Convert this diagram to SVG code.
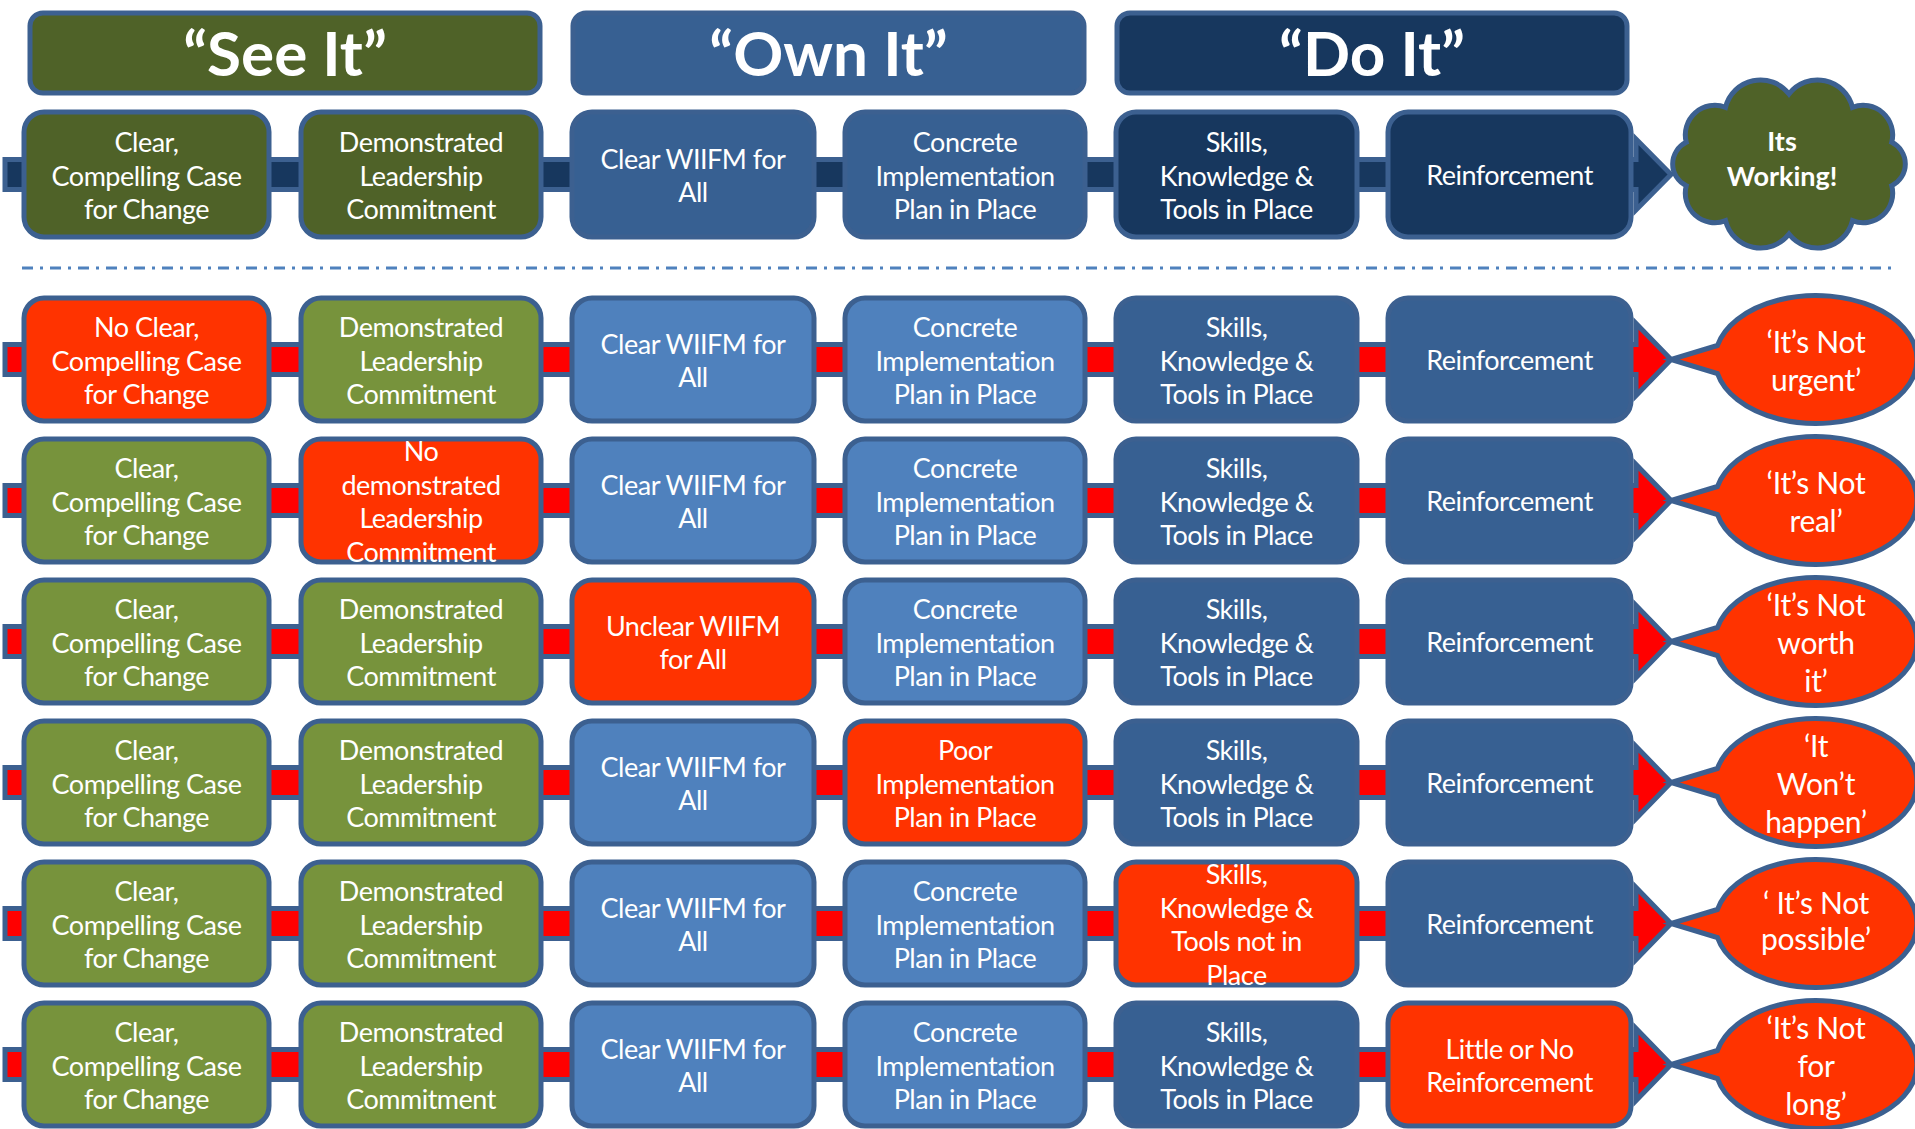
<svg xmlns="http://www.w3.org/2000/svg" width="1915" height="1129" viewBox="0 0 1915 1129">
<style>
.bx{stroke:#3c6090;stroke-width:5}
.hd{stroke:#3c6090;stroke-width:5}
.see{fill:#4f6228}.own{fill:#376092}.do{fill:#17375e}
.g{fill:#77933c}.lb{fill:#4f81bd}.db{fill:#376092}.r{fill:#ff3300}
.t{font-family:Lato,"Liberation Sans",sans-serif;font-size:27px;letter-spacing:-0.5px;fill:#fff;text-anchor:middle;dominant-baseline:central}
.h{font-family:Lato,"Liberation Sans",sans-serif;font-size:62px;font-weight:bold;fill:#fff;text-anchor:middle;dominant-baseline:central}
.bt{font-family:Lato,"Liberation Sans",sans-serif;font-size:30px;letter-spacing:-0.3px;fill:#fff;text-anchor:middle;dominant-baseline:central}
.ct{font-family:Lato,"Liberation Sans",sans-serif;font-size:27px;font-weight:bold;fill:#fff;text-anchor:middle;dominant-baseline:central}
.arr{stroke:#3c6090;stroke-width:5;stroke-linejoin:miter}
.bub{fill:#ff3300;stroke:#3c6090;stroke-width:5}
</style>
<rect width="1915" height="1129" fill="#fff"/>
<g id="connectors">
<path class="arr" fill="#17375e" d="M5 159.5H1636V139L1671 174.5L1636 210V189.5H5Z"/>
<path class="arr" fill="#ff0000" d="M5 344.5H1636V323.5L1671 359.5L1636 395.5V374.5H5Z"/>
<path class="arr" fill="#ff0000" d="M5 485.5H1636V464.5L1671 500.5L1636 536.5V515.5H5Z"/>
<path class="arr" fill="#ff0000" d="M5 626.5H1636V605.5L1671 641.5L1636 677.5V656.5H5Z"/>
<path class="arr" fill="#ff0000" d="M5 767.5H1636V746.5L1671 782.5L1636 818.5V797.5H5Z"/>
<path class="arr" fill="#ff0000" d="M5 908.5H1636V887.5L1671 923.5L1636 959.5V938.5H5Z"/>
<path class="arr" fill="#ff0000" d="M5 1049.5H1636V1028.5L1671 1064.5L1636 1100.5V1079.5H5Z"/>
</g>
<line id="divider" x1="22" y1="268" x2="1895" y2="268" stroke="#4f81bd" stroke-width="3" stroke-dasharray="11 7 3 7"/>
<g id="hdr-see"><rect class="hd see" x="30" y="13" width="510" height="80" rx="13"/><text class="h" x="285" y="52">“See It”</text></g>
<g id="hdr-own"><rect class="hd own" x="573" y="13" width="511" height="80" rx="13"/><text class="h" x="828.5" y="52">“Own It”</text></g>
<g id="hdr-do"><rect class="hd do" x="1117" y="13" width="510" height="80" rx="13"/><text class="h" x="1372" y="52">“Do It”</text></g>

<g id="r0c1"><rect class="bx see" x="24" y="112" width="245" height="125" rx="20"/><text class="t"><tspan x="146.5" y="140.9">Clear,</tspan><tspan x="146.5" y="174.5">Compelling Case</tspan><tspan x="146.5" y="208.1">for Change</tspan></text></g>
<g id="r0c2"><rect class="bx see" x="301" y="112" width="240" height="125" rx="20"/><text class="t"><tspan x="421" y="140.9">Demonstrated</tspan><tspan x="421" y="174.5">Leadership</tspan><tspan x="421" y="208.1">Commitment</tspan></text></g>
<g id="r0c3"><rect class="bx own" x="572" y="112" width="242" height="125" rx="20"/><text class="t"><tspan x="693" y="157.7">Clear WIIFM for</tspan><tspan x="693" y="191.3">All</tspan></text></g>
<g id="r0c4"><rect class="bx own" x="845" y="112" width="240" height="125" rx="20"/><text class="t"><tspan x="965" y="140.9">Concrete</tspan><tspan x="965" y="174.5">Implementation</tspan><tspan x="965" y="208.1">Plan in Place</tspan></text></g>
<g id="r0c5"><rect class="bx do" x="1116" y="112" width="241" height="125" rx="20"/><text class="t"><tspan x="1236.5" y="140.9">Skills,</tspan><tspan x="1236.5" y="174.5">Knowledge &amp;</tspan><tspan x="1236.5" y="208.1">Tools in Place</tspan></text></g>
<g id="r0c6"><rect class="bx do" x="1388" y="112" width="243" height="125" rx="20"/><text class="t" x="1509.5" y="174.5">Reinforcement</text></g>
<g id="working"><path fill="#4f6228" stroke="#3c6090" stroke-width="5" d="M1686.28 142.37A29.5 29.5 0 0 1 1725.52 107.37A36 36 0 0 1 1789 94A36 36 0 0 1 1852.48 107.37A29.5 29.5 0 0 1 1891.72 142.37A24 24 0 0 1 1891.72 185.63A29.5 29.5 0 0 1 1852.48 220.63A36 36 0 0 1 1789 234A36 36 0 0 1 1725.52 220.63A29.5 29.5 0 0 1 1686.28 185.63A24 24 0 0 1 1686.28 142.37Z"/><text class="ct"><tspan x="1782" y="140">Its</tspan><tspan x="1782" y="175">Working!</tspan></text></g>

<!-- Row 1 -->
<g id="r1c1"><rect class="bx r" x="24" y="298" width="245" height="123" rx="20"/><text class="t"><tspan x="146.5" y="325.9">No Clear,</tspan><tspan x="146.5" y="359.5">Compelling Case</tspan><tspan x="146.5" y="393.1">for Change</tspan></text></g>
<g id="r1c2"><rect class="bx g" x="301" y="298" width="240" height="123" rx="20"/><text class="t"><tspan x="421" y="325.9">Demonstrated</tspan><tspan x="421" y="359.5">Leadership</tspan><tspan x="421" y="393.1">Commitment</tspan></text></g>
<g id="r1c3"><rect class="bx lb" x="572" y="298" width="242" height="123" rx="20"/><text class="t"><tspan x="693" y="342.7">Clear WIIFM for</tspan><tspan x="693" y="376.3">All</tspan></text></g>
<g id="r1c4"><rect class="bx lb" x="845" y="298" width="240" height="123" rx="20"/><text class="t"><tspan x="965" y="325.9">Concrete</tspan><tspan x="965" y="359.5">Implementation</tspan><tspan x="965" y="393.1">Plan in Place</tspan></text></g>
<g id="r1c5"><rect class="bx db" x="1116" y="298" width="241" height="123" rx="20"/><text class="t"><tspan x="1236.5" y="325.9">Skills,</tspan><tspan x="1236.5" y="359.5">Knowledge &amp;</tspan><tspan x="1236.5" y="393.1">Tools in Place</tspan></text></g>
<g id="r1c6"><rect class="bx db" x="1388" y="298" width="243" height="123" rx="20"/><text class="t" x="1509.5" y="359.5">Reinforcement</text></g>
<g id="r1out"><path class="bub" d="M1717.45 345.5L1671 359.5L1717.45 373.5A101 64 0 1 0 1717.45 345.5Z"/><text class="bt"><tspan x="1816" y="340.5">‘It’s Not</tspan><tspan x="1816" y="378.5">urgent’</tspan></text></g>

<!-- Row 2 -->
<g id="r2c1"><rect class="bx g" x="24" y="439" width="245" height="123" rx="20"/><text class="t"><tspan x="146.5" y="466.9">Clear,</tspan><tspan x="146.5" y="500.5">Compelling Case</tspan><tspan x="146.5" y="534.1">for Change</tspan></text></g>
<g id="r2c2"><rect class="bx r" x="301" y="439" width="240" height="123" rx="20"/><text class="t"><tspan x="421" y="450.1">No</tspan><tspan x="421" y="483.7">demonstrated</tspan><tspan x="421" y="517.3">Leadership</tspan><tspan x="421" y="550.9">Commitment</tspan></text></g>
<g id="r2c3"><rect class="bx lb" x="572" y="439" width="242" height="123" rx="20"/><text class="t"><tspan x="693" y="483.7">Clear WIIFM for</tspan><tspan x="693" y="517.3">All</tspan></text></g>
<g id="r2c4"><rect class="bx lb" x="845" y="439" width="240" height="123" rx="20"/><text class="t"><tspan x="965" y="466.9">Concrete</tspan><tspan x="965" y="500.5">Implementation</tspan><tspan x="965" y="534.1">Plan in Place</tspan></text></g>
<g id="r2c5"><rect class="bx db" x="1116" y="439" width="241" height="123" rx="20"/><text class="t"><tspan x="1236.5" y="466.9">Skills,</tspan><tspan x="1236.5" y="500.5">Knowledge &amp;</tspan><tspan x="1236.5" y="534.1">Tools in Place</tspan></text></g>
<g id="r2c6"><rect class="bx db" x="1388" y="439" width="243" height="123" rx="20"/><text class="t" x="1509.5" y="500.5">Reinforcement</text></g>
<g id="r2out"><path class="bub" d="M1717.45 486.5L1671 500.5L1717.45 514.5A101 64 0 1 0 1717.45 486.5Z"/><text class="bt"><tspan x="1816" y="481.5">‘It’s Not</tspan><tspan x="1816" y="519.5">real’</tspan></text></g>

<!-- Row 3 -->
<g id="r3c1"><rect class="bx g" x="24" y="580" width="245" height="123" rx="20"/><text class="t"><tspan x="146.5" y="607.9">Clear,</tspan><tspan x="146.5" y="641.5">Compelling Case</tspan><tspan x="146.5" y="675.1">for Change</tspan></text></g>
<g id="r3c2"><rect class="bx g" x="301" y="580" width="240" height="123" rx="20"/><text class="t"><tspan x="421" y="607.9">Demonstrated</tspan><tspan x="421" y="641.5">Leadership</tspan><tspan x="421" y="675.1">Commitment</tspan></text></g>
<g id="r3c3"><rect class="bx r" x="572" y="580" width="242" height="123" rx="20"/><text class="t"><tspan x="693" y="624.7">Unclear WIIFM</tspan><tspan x="693" y="658.3">for All</tspan></text></g>
<g id="r3c4"><rect class="bx lb" x="845" y="580" width="240" height="123" rx="20"/><text class="t"><tspan x="965" y="607.9">Concrete</tspan><tspan x="965" y="641.5">Implementation</tspan><tspan x="965" y="675.1">Plan in Place</tspan></text></g>
<g id="r3c5"><rect class="bx db" x="1116" y="580" width="241" height="123" rx="20"/><text class="t"><tspan x="1236.5" y="607.9">Skills,</tspan><tspan x="1236.5" y="641.5">Knowledge &amp;</tspan><tspan x="1236.5" y="675.1">Tools in Place</tspan></text></g>
<g id="r3c6"><rect class="bx db" x="1388" y="580" width="243" height="123" rx="20"/><text class="t" x="1509.5" y="641.5">Reinforcement</text></g>
<g id="r3out"><path class="bub" d="M1717.45 627.5L1671 641.5L1717.45 655.5A101 64 0 1 0 1717.45 627.5Z"/><text class="bt"><tspan x="1816" y="603.5">‘It’s Not</tspan><tspan x="1816" y="641.5">worth</tspan><tspan x="1816" y="679.5">it’</tspan></text></g>

<!-- Row 4 -->
<g id="r4c1"><rect class="bx g" x="24" y="721" width="245" height="123" rx="20"/><text class="t"><tspan x="146.5" y="748.9">Clear,</tspan><tspan x="146.5" y="782.5">Compelling Case</tspan><tspan x="146.5" y="816.1">for Change</tspan></text></g>
<g id="r4c2"><rect class="bx g" x="301" y="721" width="240" height="123" rx="20"/><text class="t"><tspan x="421" y="748.9">Demonstrated</tspan><tspan x="421" y="782.5">Leadership</tspan><tspan x="421" y="816.1">Commitment</tspan></text></g>
<g id="r4c3"><rect class="bx lb" x="572" y="721" width="242" height="123" rx="20"/><text class="t"><tspan x="693" y="765.7">Clear WIIFM for</tspan><tspan x="693" y="799.3">All</tspan></text></g>
<g id="r4c4"><rect class="bx r" x="845" y="721" width="240" height="123" rx="20"/><text class="t"><tspan x="965" y="748.9">Poor</tspan><tspan x="965" y="782.5">Implementation</tspan><tspan x="965" y="816.1">Plan in Place</tspan></text></g>
<g id="r4c5"><rect class="bx db" x="1116" y="721" width="241" height="123" rx="20"/><text class="t"><tspan x="1236.5" y="748.9">Skills,</tspan><tspan x="1236.5" y="782.5">Knowledge &amp;</tspan><tspan x="1236.5" y="816.1">Tools in Place</tspan></text></g>
<g id="r4c6"><rect class="bx db" x="1388" y="721" width="243" height="123" rx="20"/><text class="t" x="1509.5" y="782.5">Reinforcement</text></g>
<g id="r4out"><path class="bub" d="M1717.45 768.5L1671 782.5L1717.45 796.5A101 64 0 1 0 1717.45 768.5Z"/><text class="bt"><tspan x="1816" y="744.5">‘It</tspan><tspan x="1816" y="782.5">Won’t</tspan><tspan x="1816" y="820.5">happen’</tspan></text></g>

<!-- Row 5 -->
<g id="r5c1"><rect class="bx g" x="24" y="862" width="245" height="123" rx="20"/><text class="t"><tspan x="146.5" y="889.9">Clear,</tspan><tspan x="146.5" y="923.5">Compelling Case</tspan><tspan x="146.5" y="957.1">for Change</tspan></text></g>
<g id="r5c2"><rect class="bx g" x="301" y="862" width="240" height="123" rx="20"/><text class="t"><tspan x="421" y="889.9">Demonstrated</tspan><tspan x="421" y="923.5">Leadership</tspan><tspan x="421" y="957.1">Commitment</tspan></text></g>
<g id="r5c3"><rect class="bx lb" x="572" y="862" width="242" height="123" rx="20"/><text class="t"><tspan x="693" y="906.7">Clear WIIFM for</tspan><tspan x="693" y="940.3">All</tspan></text></g>
<g id="r5c4"><rect class="bx lb" x="845" y="862" width="240" height="123" rx="20"/><text class="t"><tspan x="965" y="889.9">Concrete</tspan><tspan x="965" y="923.5">Implementation</tspan><tspan x="965" y="957.1">Plan in Place</tspan></text></g>
<g id="r5c5"><rect class="bx r" x="1116" y="862" width="241" height="123" rx="20"/><text class="t"><tspan x="1236.5" y="873.1">Skills,</tspan><tspan x="1236.5" y="906.7">Knowledge &amp;</tspan><tspan x="1236.5" y="940.3">Tools not in</tspan><tspan x="1236.5" y="973.9">Place</tspan></text></g>
<g id="r5c6"><rect class="bx db" x="1388" y="862" width="243" height="123" rx="20"/><text class="t" x="1509.5" y="923.5">Reinforcement</text></g>
<g id="r5out"><path class="bub" d="M1717.45 909.5L1671 923.5L1717.45 937.5A101 64 0 1 0 1717.45 909.5Z"/><text class="bt"><tspan x="1816" y="902">‘ It’s Not</tspan><tspan x="1816" y="938">possible’</tspan></text></g>

<!-- Row 6 -->
<g id="r6c1"><rect class="bx g" x="24" y="1003" width="245" height="123" rx="20"/><text class="t"><tspan x="146.5" y="1030.9">Clear,</tspan><tspan x="146.5" y="1064.5">Compelling Case</tspan><tspan x="146.5" y="1098.1">for Change</tspan></text></g>
<g id="r6c2"><rect class="bx g" x="301" y="1003" width="240" height="123" rx="20"/><text class="t"><tspan x="421" y="1030.9">Demonstrated</tspan><tspan x="421" y="1064.5">Leadership</tspan><tspan x="421" y="1098.1">Commitment</tspan></text></g>
<g id="r6c3"><rect class="bx lb" x="572" y="1003" width="242" height="123" rx="20"/><text class="t"><tspan x="693" y="1047.7">Clear WIIFM for</tspan><tspan x="693" y="1081.3">All</tspan></text></g>
<g id="r6c4"><rect class="bx lb" x="845" y="1003" width="240" height="123" rx="20"/><text class="t"><tspan x="965" y="1030.9">Concrete</tspan><tspan x="965" y="1064.5">Implementation</tspan><tspan x="965" y="1098.1">Plan in Place</tspan></text></g>
<g id="r6c5"><rect class="bx db" x="1116" y="1003" width="241" height="123" rx="20"/><text class="t"><tspan x="1236.5" y="1030.9">Skills,</tspan><tspan x="1236.5" y="1064.5">Knowledge &amp;</tspan><tspan x="1236.5" y="1098.1">Tools in Place</tspan></text></g>
<g id="r6c6"><rect class="bx r" x="1388" y="1003" width="243" height="123" rx="20"/><text class="t"><tspan x="1509.5" y="1047.7">Little or No</tspan><tspan x="1509.5" y="1081.3">Reinforcement</tspan></text></g>
<g id="r6out"><path class="bub" d="M1717.45 1050.5L1671 1064.5L1717.45 1078.5A101 64 0 1 0 1717.45 1050.5Z"/><text class="bt"><tspan x="1816" y="1026.5">‘It’s Not</tspan><tspan x="1816" y="1064.5">for</tspan><tspan x="1816" y="1102.5">long’</tspan></text></g>
</svg>
